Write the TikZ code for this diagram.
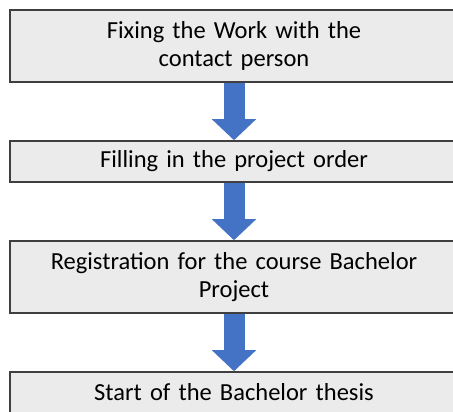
\documentclass[tikz,border=0pt]{standalone}
\usepackage{fontspec}
\setmainfont{Carlito}
\usepackage{tikz}
\usetikzlibrary{arrows.meta}
\definecolor{boxgray}{HTML}{EBEBEB}
\definecolor{boxline}{HTML}{3F3F3F}
\definecolor{flowblue}{HTML}{4472C4}
\begin{document}
\begin{tikzpicture}[x=1pt,y=1pt,
    stepbox/.style={draw=boxline, line width=1.5pt, fill=boxgray, minimum width=448pt,
      text width=440pt, align=center, inner sep=0pt, text=black,
      font=\fontsize{24.5}{28}\selectfont},
    flow/.style={draw=flowblue, line width=21pt, -{Triangle[length=21pt,width=43pt]}}]
    \clip (0,0) rectangle (453,412);
    \useasboundingbox (0,0) rectangle (453,412);
    \node [stepbox, minimum height=72pt] (fix) at (234,366) {Fixing the Work with the\\contact person};
    \node [stepbox, minimum height=41pt] (order) at (234,250.5) {Filling in the project order};
    \node [stepbox, minimum height=72pt] (reg) at (234,135) {Registration for the course Bachelor\\Project};
    \node [stepbox, minimum height=41pt] (start) at (234,19.5) {Start of the Bachelor thesis};
    \draw [flow] (fix.south) -- (order.north);
    \draw [flow] (order.south) -- (reg.north);
    \draw [flow] (reg.south) -- (start.north);
  \end{tikzpicture}
\end{document}
